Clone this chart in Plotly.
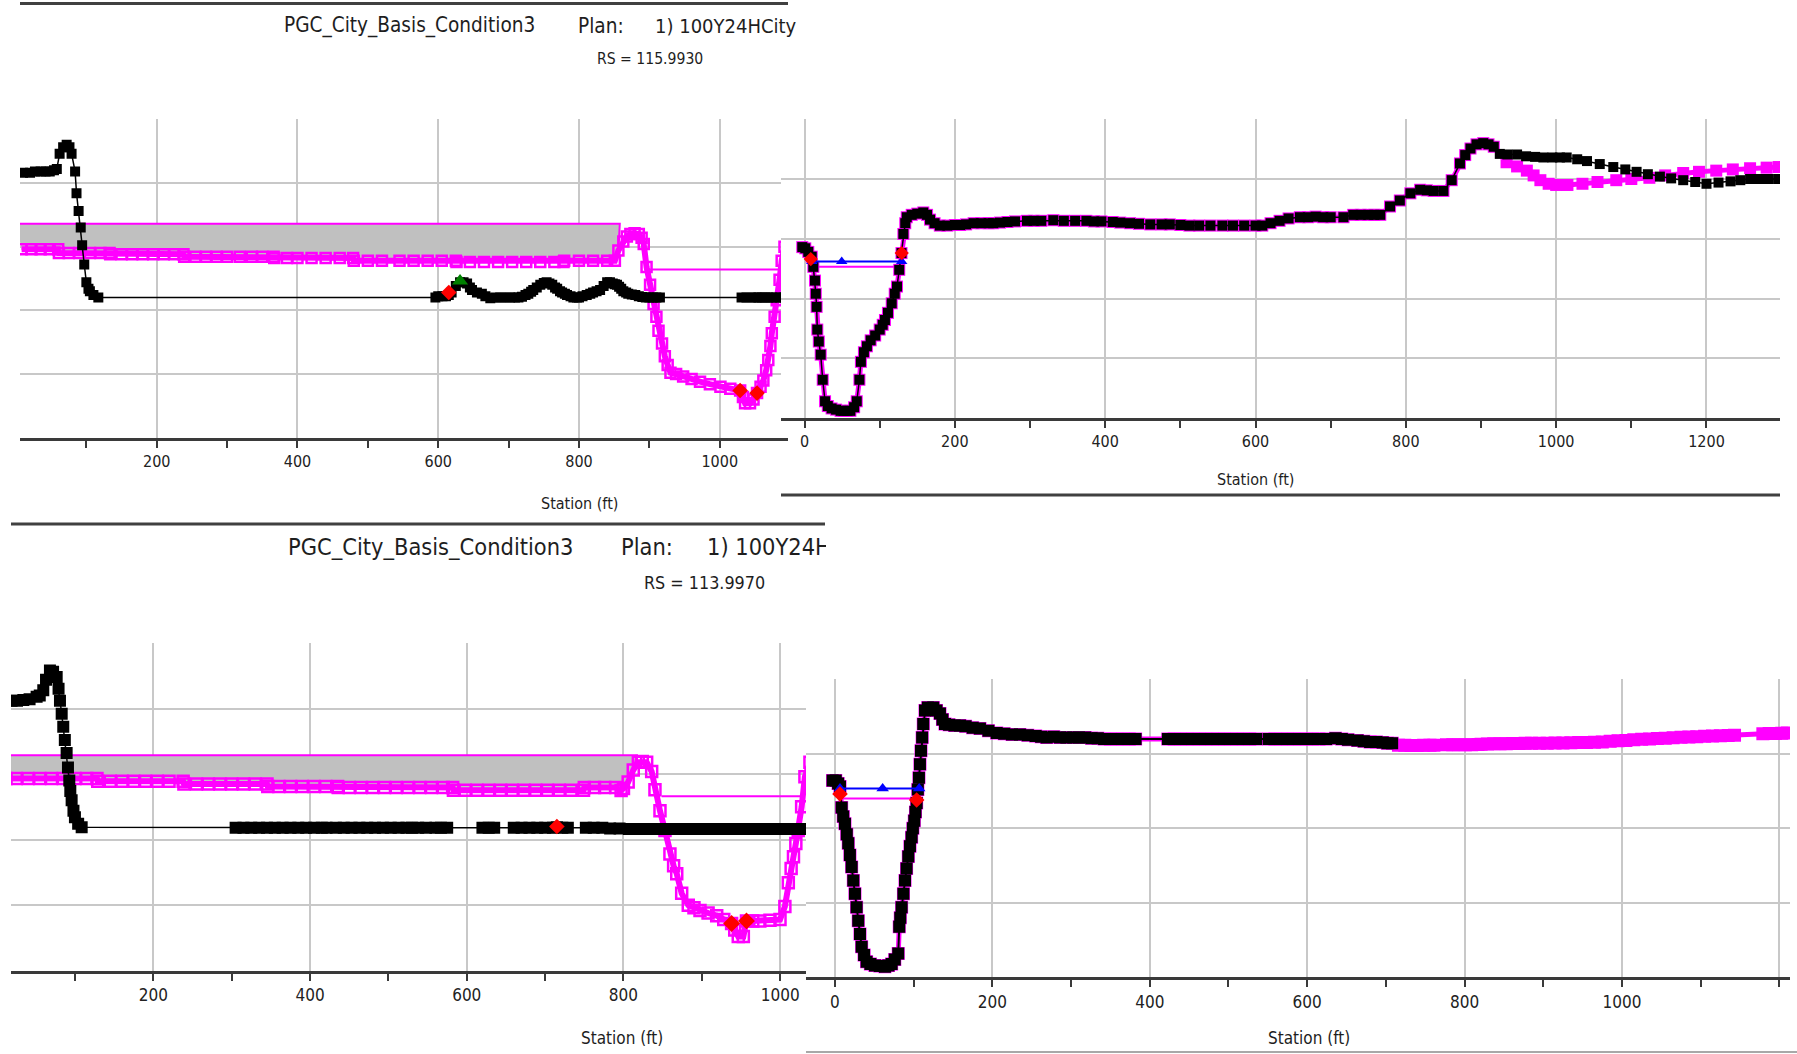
import plotly.graph_objects as go

W, H = 1797, 1054
PINK = "#ff00ff"
GRID = "#c8c8c8"
AXC = "#3a3a3a"
FONT = "DejaVu Sans Condensed, Liberation Sans Narrow, Arial Narrow, Liberation Sans, sans-serif"

# ---------------- data: RS 115.9930 (top-left window) ----------------
tl_black_sta = [10, 20, 27, 35, 42, 48, 54, 58, 62, 67, 72, 76, 79, 84, 86, 89, 92, 94, 97, 100, 103, 105, 110, 117,
                596, 600, 606, 611, 615, 619, 625, 631, 636, 641, 645, 648, 655, 662, 667, 674, 681, 688, 695, 702,
                709, 714, 719, 724, 728, 732, 735, 740, 745, 750, 754, 758, 762, 766, 769, 773, 776, 780, 783, 788,
                792, 797, 800, 805, 811, 816, 820, 825, 830, 835, 840, 844, 848, 851, 854, 857, 860, 863, 867, 870,
                875, 880, 885, 890, 895, 900, 905, 910, 915,
                1031, 1038, 1045, 1052, 1055, 1060, 1065, 1069, 1074, 1080, 1086, 1092, 1100]
tl_black_elev = [150.8, 150.8, 150.9, 150.9, 150.9, 150.9, 151.0, 151.1, 152.3, 152.8, 153.0, 152.8, 152.3, 150.9,
                 149.2, 147.8, 146.5, 145.1, 143.6, 142.2, 141.7, 141.5, 141.2, 141.0,
                 141.0, 141.1, 141.1, 141.1, 141.2, 141.4, 141.9, 142.2, 142.2, 142.1,
                 141.8, 141.6, 141.4, 141.3, 141.1, 140.95, 141.0, 141.0, 141.0, 141.0,
                 141.0, 141.0, 141.06, 141.2, 141.3, 141.45, 141.6, 141.8, 142.0, 142.15,
                 142.2, 142.1, 142.0, 141.8, 141.7, 141.5, 141.4, 141.3, 141.2, 141.1,
                 141.0, 141.0, 141.0, 141.1, 141.2, 141.3, 141.4, 141.5, 141.6, 141.9,
                 142.2, 142.2, 142.1, 142.05, 142.0, 141.85, 141.7, 141.5, 141.4, 141.3,
                 141.25, 141.2, 141.1, 141.05, 141.0, 141.0, 141.0, 141.0, 141.0,
                 141.0, 141.0, 141.0, 141.0, 141.0, 141.0, 141.0, 141.0, 141.0, 141.0, 141.0, 141.0, 141.0]
tl_pink_sta = [8, 22, 35, 48, 60, 61, 75, 90, 105, 120, 133, 134, 150, 165, 180, 195, 210, 225, 238, 239, 255, 270,
               285, 300, 318, 335, 350, 366, 367, 385, 400, 420, 440, 460, 479, 480, 500, 520, 545, 565, 585, 605,
               625, 626, 645, 665, 685, 705, 725, 745, 765, 778, 779, 800, 820, 840, 851, 856, 863, 868, 873, 879,
               885, 889, 892, 896, 901, 906, 910, 913, 918, 922, 926, 930, 938, 948, 960, 972, 986, 1001, 1015,
               1029, 1033, 1036, 1043, 1048, 1053, 1058, 1062, 1066, 1069, 1072, 1074, 1078, 1081, 1085, 1088,
               1092, 1096, 1100, 1105, 1112]
tl_pink_elev = [144.8, 144.8, 144.8, 144.8, 144.8, 144.5, 144.5, 144.5, 144.5, 144.5, 144.5, 144.4, 144.4, 144.4,
                144.4, 144.4, 144.4, 144.4, 144.4, 144.2, 144.2, 144.2, 144.2, 144.2, 144.2, 144.2, 144.2, 144.2,
                144.1, 144.1, 144.1, 144.1, 144.1, 144.1, 144.1, 143.9, 143.9, 143.9, 143.9, 143.9, 143.9, 143.9,
                143.9, 143.8, 143.8, 143.8, 143.8, 143.8, 143.8, 143.8, 143.8, 143.8, 143.9, 143.9, 143.9, 143.9,
                143.9, 144.7, 145.4, 145.8, 146.0, 146.05, 146.0, 145.7, 145.2, 143.4, 142.0, 140.5, 139.5, 138.4,
                137.4, 136.4, 135.7, 135.1, 135.0, 134.8, 134.6, 134.4, 134.2, 134.0, 133.85, 133.7, 133.2, 132.7,
                132.7, 133.0, 133.5, 134.0, 134.5, 135.3, 136.1, 137.2, 138.2, 139.5, 140.8, 142.4, 143.9, 145.0,
                146.0, 146.3, 146.4, 145.0]
tl_ineff_sta = [0, 858]
tl_ineff_elev = [146.8, 146.8]
tl_ws_sta = [899, 1086]
tl_ws_elev = [143.2, 143.2]
tl_bank_black_sta = [615]
tl_bank_black_elev = [141.4]
tl_bank_pink_sta = [1029, 1053]
tl_bank_pink_elev = [133.7, 133.5]
tl_lev_sta = [631]
tl_lev_elev = [142.3]

# ---------------- data: top-right window ----------------
tr_black_sta = [-3, 1, 5, 9.6, 11.7, 13.9, 15, 16.1, 17, 19, 21.5, 24.2, 27.3, 31, 36, 42, 48, 52, 57, 61,
                66, 69.5, 73, 75, 79, 83, 88, 94, 100, 104, 107, 111, 116, 120, 123, 126, 129, 131.5, 134, 136,
                142.6, 150, 158, 163, 167, 173, 180, 190, 200, 207, 215, 225, 235, 245, 251, 260, 270, 280, 296, 305,
                315, 331, 345, 360, 375, 385, 395, 410, 420, 433, 445, 460, 475, 486, 500, 512, 525, 540, 556, 570,
                585, 600, 609, 620, 632, 644, 659, 670, 680, 690, 700, 717, 730, 740, 750, 758, 766, 779, 792, 806,
                819, 828, 837, 850, 861, 872, 879, 886, 894, 903, 910, 917, 925, 935, 948, 960, 972, 983, 995, 1005,
                1014, 1028, 1041, 1058, 1076, 1092, 1107, 1122, 1138, 1153, 1169, 1185, 1200, 1216, 1232, 1245,
                1258, 1270, 1283, 1296]
tr_black_elev = [144.3, 144.2, 143.9, 143.5, 142.65, 141.5, 140.4, 139.3, 137.4, 136.4,
                 135.3, 133.2, 131.4, 131.0, 130.8, 130.7, 130.6, 130.6, 130.6, 130.6,
                 130.9, 131.4, 133.2, 134.7, 135.5, 136.0, 136.5, 136.9, 137.4, 137.8,
                 138.2, 138.8, 139.6, 140.4, 141.0, 142.4, 143.8, 145.4, 146.3, 146.8,
                 147.0, 147.1, 147.2, 147.0, 146.6, 146.3, 146.1, 146.1, 146.15, 146.15,
                 146.2, 146.3, 146.3, 146.3, 146.3, 146.35, 146.4, 146.45, 146.5, 146.5,
                 146.5, 146.55, 146.5, 146.5, 146.5, 146.45, 146.45, 146.4, 146.35, 146.3,
                 146.25, 146.2, 146.2, 146.2, 146.15, 146.1, 146.1, 146.1, 146.1, 146.1,
                 146.1, 146.1, 146.1, 146.3, 146.5, 146.7, 146.8, 146.8, 146.85, 146.8,
                 146.8, 146.8, 147.0, 147.0, 147.0, 147.0, 147.0, 147.7, 148.2, 148.8,
                 149.1, 149.05, 149.0, 149.0, 149.9, 151.3, 152.0, 152.55, 152.9, 153.0,
                 152.9, 152.7, 152.1, 152.05, 152.05, 151.9, 151.85, 151.8, 151.8, 151.8,
                 151.8, 151.65, 151.5, 151.25, 151.0, 150.8, 150.6, 150.4, 150.2, 150.05,
                 149.9, 149.75, 149.6, 149.7, 149.8, 149.9, 150.0, 150.0, 150.0, 150.0]
tr_pink_tail_sta = [934, 948, 961, 970, 979, 990, 1000, 1015, 1035, 1055, 1080, 1100, 1124, 1145, 1169, 1190,
                    1213, 1235, 1258, 1280, 1296]
tr_pink_tail_elev = [151.4, 151.05, 150.7, 150.3, 149.9, 149.6, 149.5, 149.5, 149.6, 149.75, 149.9, 150.0, 150.1,
                     150.3, 150.5, 150.6, 150.7, 150.8, 150.9, 150.95, 151.0]
tr_pink_split = 921
tr_ws_blue_sta = [9.6, 49.5, 129.3]
tr_ws_blue_elev = [143.1, 143.1, 143.1]
tr_ws_pink_sta = [11.7, 125.7]
tr_ws_pink_elev = [142.65, 142.65]
tr_bank_sta = [8.3, 129.3]
tr_bank_elev = [143.3, 143.8]

# ---------------- data: RS 113.9970 (bottom-left window) ----------------
bl_black_sta = [19, 26, 34, 42, 51, 55, 59.5, 63, 68, 72, 76.6, 79, 80.8, 83, 85, 87, 89.3, 91, 92.7, 94, 95.7, 98,
                99.9, 104, 108.5,
                305, 315, 325, 335, 345, 355, 365, 375, 385, 395, 405, 415, 421,
                433, 443, 453, 463, 473, 483, 493, 503, 513, 523, 530,
                538, 548, 560, 567, 575, 620, 628, 635,
                660, 670, 680, 690, 700, 710, 715, 722, 729,
                752, 762, 773, 783, 795, 807, 814, 825,
                828, 838, 848, 858, 868, 878, 888, 898, 908, 918, 928, 938, 948, 958, 968, 978, 988, 998, 1004,
                1013, 1023, 1033, 1043, 1047, 1050, 1057]
bl_black_elev = [150.6, 150.6, 150.65, 150.7, 150.9, 151.0, 151.4, 152.2, 152.9, 152.8, 152.4, 151.5, 150.6, 149.6,
                 148.6, 147.6, 146.6, 145.5, 144.5, 143.7, 143.0, 142.2, 141.7, 141.2, 140.95,
                 140.9, 140.9, 140.9, 140.9, 140.9, 140.9, 140.9, 140.9, 140.9, 140.9, 140.9, 140.9, 140.9,
                 140.9, 140.9, 140.9, 140.9, 140.9, 140.9, 140.9, 140.9, 140.9, 140.9, 140.9,
                 140.9, 140.9, 140.9, 140.9, 140.9, 140.9, 140.9, 140.9,
                 140.9, 140.9, 140.9, 140.9, 140.9, 140.9, 140.95, 140.9, 140.9,
                 140.9, 140.9, 140.9, 140.85, 140.85, 140.8, 140.8, 140.8,
                 140.8, 140.8, 140.8, 140.8, 140.8, 140.8, 140.8, 140.8, 140.8, 140.8, 140.8, 140.8, 140.8, 140.8,
                 140.8, 140.8, 140.8, 140.8, 140.8,
                 140.8, 140.8, 140.8, 140.85, 140.9, 140.9, 140.9]
bl_pink_sta = [12, 25, 40, 55, 70, 85, 100, 115, 128, 129, 145, 160, 175, 190, 205, 220, 238, 239, 255, 270, 285,
               300, 315, 330, 345, 346, 360, 375, 390, 405, 420, 435, 436, 450, 465, 480, 495, 510, 525, 540, 555,
               570, 582, 583, 598, 613, 628, 643, 658, 673, 688, 703, 718, 733, 749, 750, 763, 776, 790, 797, 800,
               806, 812.5, 819, 824, 829.6, 836, 840.2, 846.6, 853, 859.3, 864, 868, 874.3, 882.7, 890, 897.7, 908,
               919, 928, 938, 942, 946.5, 953, 957, 965, 974, 987, 999.8, 1006, 1010.4, 1014, 1017, 1020, 1023,
               1027.4, 1031.6, 1038, 1045, 1051, 1054, 1057, 1060, 1063]
bl_pink_elev = [144.66, 144.66, 144.66, 144.66, 144.66, 144.66, 144.66, 144.66, 144.66, 144.45, 144.45, 144.45,
                144.45, 144.45, 144.45, 144.45, 144.45, 144.25, 144.25, 144.25, 144.25, 144.25, 144.25, 144.25,
                144.25, 144.05, 144.05, 144.05, 144.05, 144.05, 144.05, 144.05, 143.97, 143.97, 143.97, 143.97,
                143.97, 143.97, 143.97, 143.97, 143.97, 143.97, 143.97, 143.76, 143.76, 143.76, 143.76, 143.76,
                143.76, 143.76, 143.76, 143.76, 143.76, 143.76, 143.76, 143.97, 143.97, 143.97, 143.97, 143.75,
                143.9, 144.4, 145.3, 145.9, 145.95, 145.9, 145.2, 143.8, 142.2, 140.7, 138.9, 138.0, 137.4, 135.9,
                135.0, 134.8, 134.6, 134.4, 134.2, 133.9, 133.6, 133.1, 132.6, 132.6, 133.8, 133.8, 133.8, 133.85,
                133.9, 134.9, 136.7, 137.8, 138.7, 139.7, 140.7, 142.5, 144.8, 145.9, 145.95, 145.9, 144.8, 142.8,
                142.3, 143.5]
bl_ineff_sta = [0, 817]
bl_ineff_elev = [146.44, 146.44]
bl_ws_sta = [848.7, 1029.5]
bl_ws_elev = [143.3, 143.3]
bl_bank_black_sta = [715, 1047]
bl_bank_black_elev = [141.0, 141.0]
bl_bank_pink_sta = [938, 957]
bl_bank_pink_elev = [133.6, 133.8]

# ---------------- data: bottom-right window ----------------
br_black_sta = [-3, 1, 4, 6.4, 8.5, 10.5, 12.7, 15, 16.9, 19, 21.2, 23.3, 25.4, 27.5, 29.6, 31.8, 33.9, 37, 40.2, 45,
                50.8, 57, 63.5, 68, 72, 76, 80.4, 81.7, 83, 84.7, 87, 89, 91, 93.2, 95.3, 97.4, 99, 100.8, 102.3,
                103.8, 105.3, 106.7, 108, 109.3, 110.8, 112.2, 114.4, 118, 124.9, 129, 133.4, 136.6, 139.8, 145,
                152, 158.8, 166, 175, 184.2, 195, 205.5, 215, 225, 235, 245, 255, 262, 269, 278, 286, 294, 302.8,
                310, 318, 326, 334, 342, 350, 358, 366, 374, 382,
                423, 431, 439, 447, 455, 463, 471, 479, 487, 495, 503, 511, 519, 527, 535,
                551, 559, 567, 575, 583, 591, 599, 607, 615, 624,
                636, 644, 652, 664, 672, 680, 688, 696, 702, 708]
br_black_elev = [143.2, 143.2, 143.0, 142.8, 141.4, 140.8, 140.3, 139.6, 139.0, 138.2,
                 137.4, 136.5, 135.6, 134.7, 133.8, 132.9, 132.05, 131.5, 131.05, 130.9,
                 130.8, 130.75, 130.7, 130.8, 130.9, 131.2, 131.6, 133.4, 134.0, 134.7,
                 135.6, 136.5, 137.3, 138.1, 138.8, 139.4, 140.0, 140.5, 141.1, 141.7,
                 142.6, 143.4, 144.3, 145.2, 146.1, 147.0, 147.9, 148.1, 148.1, 147.9,
                 147.7, 147.3, 147.0, 146.95, 146.9, 146.9, 146.85, 146.75, 146.7, 146.55,
                 146.4, 146.35, 146.3, 146.3, 146.25, 146.2, 146.15, 146.1, 146.15, 146.1,
                 146.1, 146.1, 146.1, 146.1, 146.05, 146.05, 146.0, 146.0, 146.0, 146.0,
                 146.0, 146.0,
                 146.0, 146.0, 146.0, 146.0, 146.0, 146.0, 146.0, 146.0, 146.0, 146.0, 146.0, 146.0, 146.0, 146.0,
                 146.0,
                 146.0, 146.0, 146.0, 146.0, 146.0, 146.0, 146.0, 146.0, 146.0, 146.0,
                 146.05, 146.0, 145.95, 145.9, 145.85, 145.8, 145.8, 145.75, 145.7, 145.7]
br_pink_tail_sta = [716, 724, 732, 740, 748, 756, 761, 777, 785, 793, 801, 809, 817, 821, 829, 837, 845, 853, 861,
                    869, 877, 885, 895, 905, 915, 925, 935, 945, 955, 965, 975, 985, 995, 1005, 1015, 1025, 1035,
                    1045, 1055, 1065, 1075, 1085, 1095, 1105, 1115, 1125, 1135, 1143, 1179, 1187, 1195, 1203, 1210]
br_pink_tail_elev = [145.58, 145.57, 145.56, 145.56, 145.57, 145.57, 145.57, 145.6, 145.6, 145.6, 145.61, 145.61,
                     145.62, 145.64, 145.66, 145.67, 145.68, 145.68, 145.69, 145.69, 145.7, 145.7, 145.7, 145.71,
                     145.72, 145.72, 145.74, 145.75, 145.76, 145.78, 145.8, 145.84, 145.88, 145.9, 145.94, 145.97,
                     146.0, 146.02, 146.05, 146.08, 146.11, 146.13, 146.15, 146.17, 146.19, 146.21, 146.23, 146.24,
                     146.35, 146.36, 146.37, 146.38, 146.39]
br_ws_blue_sta = [6.4, 60.6, 107]
br_ws_blue_elev = [142.67, 142.67, 142.67]
br_ws_pink_sta = [6.4, 103.8]
br_ws_pink_elev = [142.0, 142.0]
br_bank_sta = [6.4, 103.8]
br_bank_elev = [142.3, 141.9]

title_main = "PGC_City_Basis_Condition3"
title_plan = "Plan:"
title_run = "1) 100Y24HCity"
rs_top = "RS = 115.9930"
rs_bottom = "RS = 113.9970"
x_title = "Station (ft)"

# ---------------- figure ----------------
fig = go.Figure()


def dx(l, r):
    return [l / W, r / W]


def dy(t, b):
    return [1 - b / H, 1 - t / H]


def ground(sta, elev, ax, color, msym, msize, lw, mlw=0):
    fig.add_trace(go.Scatter(
        x=sta, y=elev, mode="lines+markers", xaxis="x" + ax, yaxis="y" + ax,
        line=dict(color=color, width=lw),
        marker=dict(symbol=msym, size=msize, color=color, line=dict(color=color, width=mlw)),
        hoverinfo="skip", showlegend=False))


def simple_line(sta, elev, ax, color, width=2):
    fig.add_trace(go.Scatter(x=sta, y=elev, mode="lines", xaxis="x" + ax, yaxis="y" + ax,
                             line=dict(color=color, width=width), hoverinfo="skip", showlegend=False))


def pts(sta, elev, ax, sym, color, size, mode="markers", lw=2):
    fig.add_trace(go.Scatter(x=sta, y=elev, mode=mode, xaxis="x" + ax, yaxis="y" + ax,
                             marker=dict(symbol=sym, size=size, color=color),
                             line=dict(color=color, width=lw), hoverinfo="skip", showlegend=False))


def ineff(top_sta, top_elev, g_sta, g_elev, ax):
    lim = top_sta[-1]
    below = [(s, e) for s, e in zip(g_sta, g_elev) if s <= lim]
    below.reverse()
    px = list(top_sta) + [s for s, _ in below]
    py = list(top_elev) + [e for _, e in below]
    fig.add_trace(go.Scatter(x=px, y=py, mode="lines", fill="toself", fillcolor="#c0c0c0",
                             xaxis="x" + ax, yaxis="y" + ax, line=dict(color=PINK, width=2),
                             hoverinfo="skip", showlegend=False))


# top-left
ineff(tl_ineff_sta, tl_ineff_elev, tl_pink_sta, tl_pink_elev, "")
ground(tl_pink_sta, tl_pink_elev, "", PINK, "square-open", 10, 6, 2.5)
simple_line(tl_ws_sta, tl_ws_elev, "", PINK, 2)
ground(tl_black_sta, tl_black_elev, "", "black", "square", 10, 1.5)
pts(tl_bank_black_sta, tl_bank_black_elev, "", "diamond", "#ff0000", 12)
pts(tl_bank_pink_sta, tl_bank_pink_elev, "", "diamond", "#ff0000", 12)
pts(tl_lev_sta, tl_lev_elev, "", "triangle-up", "#008000", 14)

# top-right
tr_pink_sta = [s for s in tr_black_sta if s <= tr_pink_split] + tr_pink_tail_sta
tr_pink_elev = [e for s, e in zip(tr_black_sta, tr_black_elev) if s <= tr_pink_split] + tr_pink_tail_elev
ground(tr_pink_sta, tr_pink_elev, "2", PINK, "square", 12, 5)
simple_line(tr_ws_pink_sta, tr_ws_pink_elev, "2", PINK, 2)
ground(tr_black_sta, tr_black_elev, "2", "black", "square", 10, 1.5)
pts(tr_ws_blue_sta, tr_ws_blue_elev, "2", "triangle-up", "#0000ff", 10, mode="lines+markers", lw=2)
pts(tr_bank_sta, tr_bank_elev, "2", "diamond", "#ff0000", 11)

# bottom-left
ineff(bl_ineff_sta, bl_ineff_elev, bl_pink_sta, bl_pink_elev, "3")
ground(bl_pink_sta, bl_pink_elev, "3", PINK, "square-open", 11, 6, 2.5)
simple_line(bl_ws_sta, bl_ws_elev, "3", PINK, 2)
ground(bl_black_sta, bl_black_elev, "3", "black", "square", 12, 1.5)
pts(bl_bank_black_sta, bl_bank_black_elev, "3", "diamond", "#ff0000", 12)
pts(bl_bank_pink_sta, bl_bank_pink_elev, "3", "diamond", "#ff0000", 13)

# bottom-right
br_pink_sta = list(br_black_sta) + br_pink_tail_sta
br_pink_elev = list(br_black_elev) + br_pink_tail_elev
ground(br_pink_sta, br_pink_elev, "4", PINK, "square", 13, 5)
simple_line(br_ws_pink_sta, br_ws_pink_elev, "4", PINK, 2)
ground(br_black_sta, br_black_elev, "4", "black", "square", 12, 2)
pts(br_ws_blue_sta, br_ws_blue_elev, "4", "triangle-up", "#0000ff", 11, mode="lines+markers", lw=2)
pts(br_bank_sta, br_bank_elev, "4", "diamond", "#ff0000", 12)

# clipped title of the bottom-left window (covered by the right window)
fig.add_trace(go.Scatter(
    x=[288, 621, 707], y=[549, 549, 549], mode="text", text=[title_main, title_plan, title_run],
    textposition="middle right", textfont=dict(family=FONT, size=23.4, color="#1e1e1e"),
    xaxis="x5", yaxis="y5", cliponaxis=True, hoverinfo="skip", showlegend=False))


def xax(domain, rng, anchor, fsize):
    return dict(domain=domain, range=rng, anchor=anchor, dtick=200, tick0=0,
                showgrid=True, gridcolor=GRID, gridwidth=2, zeroline=False,
                showline=True, linecolor=AXC, linewidth=3,
                ticks="outside", ticklen=7, tickwidth=1.5, tickcolor=AXC,
                tickfont=dict(family=FONT, size=fsize, color="#222"), ticklabelstandoff=0,
                minor=dict(dtick=100, tick0=0, ticks="outside", ticklen=7, tickwidth=1.5,
                           tickcolor=AXC, showgrid=False))


def yax(domain, rng, anchor):
    return dict(domain=domain, range=rng, anchor=anchor, dtick=5, tick0=0,
                showgrid=True, gridcolor=GRID, gridwidth=2, zeroline=False,
                showline=False, showticklabels=False, ticks="")


fig.update_layout(
    width=W, height=H, margin=dict(l=0, r=0, t=0, b=0),
    paper_bgcolor="white", plot_bgcolor="white", showlegend=False,
    xaxis=xax(dx(20, 788), [5.7, 1097], "y", 16),
    yaxis=yax(dy(119, 437.7), [130, 155.02], "x"),
    xaxis2=xax(dx(781, 1780), [-31.3, 1297.8], "y2", 16),
    yaxis2=yax(dy(119, 418), [130, 155.02], "x2"),
    xaxis3=xax(dx(11, 826), [18.3, 1058.5], "y3", 17),
    yaxis3=yax(dy(642.7, 970.7), [130, 155.02], "x3"),
    xaxis4=xax(dx(806, 1790), [-36.8, 1213.5], "y4", 17),
    yaxis4=yax(dy(679, 977.3), [130, 150.02], "x4"),
    xaxis5=dict(domain=dx(11, 826), range=[11, 826], anchor="y5", visible=False),
    yaxis5=dict(domain=dy(530, 600), range=[600, 530], anchor="x5", visible=False),
)


def ann(text, fx, fy, size, anchor="center"):
    fig.add_annotation(text=text, x=fx / W, y=1 - fy / H, xref="paper", yref="paper",
                       xanchor=anchor, yanchor="middle", showarrow=False,
                       font=dict(family=FONT, size=size, color="#1e1e1e"))


ann(title_main, 282, 26, 20.6, "left")
ann(title_plan, 576, 26, 20.6, "left")
ann(title_run, 653, 26, 20, "left")
ann(rs_top, 650, 58.5, 15.6)
ann(rs_bottom, 704, 582, 17.8)
ann(x_title, 579, 503, 16)
ann(x_title, 1255, 479, 16)
ann(x_title, 622, 1038, 17)
ann(x_title, 1309, 1038, 17)


def hline(x0, x1, fy, color, width):
    fig.add_shape(type="line", xref="paper", yref="paper", x0=x0 / W, x1=x1 / W,
                  y0=1 - fy / H, y1=1 - fy / H, line=dict(color=color, width=width))


hline(20, 788, 3.5, "#404040", 3)
hline(781, 1780, 495, "#404040", 3)
hline(11, 825, 524, "#404040", 3)
hline(806, 1797, 1052, "#a8a8a8", 2)

fig.write_html("out.html")
